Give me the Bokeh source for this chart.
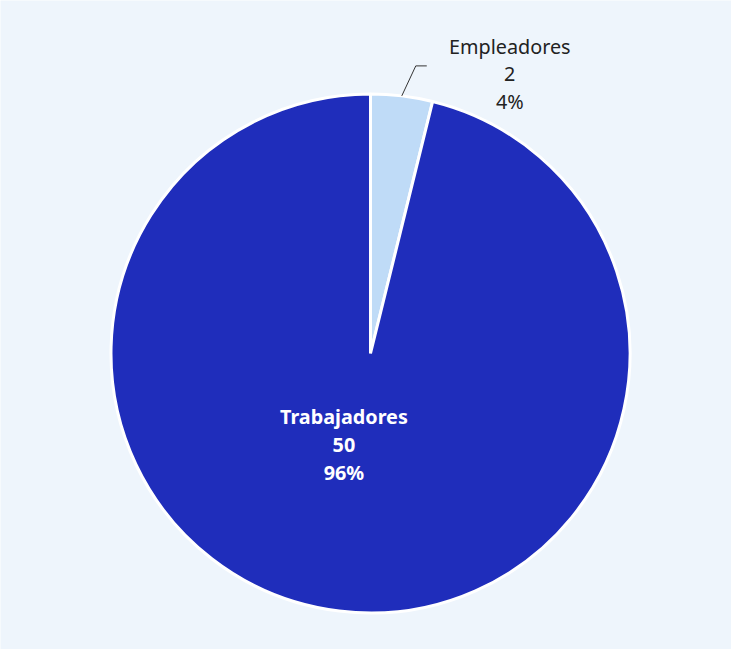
import math
from bokeh.plotting import figure
from bokeh.models import Range1d
from bokeh.core.properties import value
from bokeh.embed import file_html
from bokeh.resources import INLINE

categories = ["Empleadores", "Trabajadores"]
counts = [2, 50]
colors = ["#bfdbf7", "#1f2dbb"]

W, H = 731, 649
p = figure(width=W, height=H, output_backend="svg", toolbar_location=None,
           x_range=Range1d(0, W), y_range=Range1d(0, H), min_border=0,
           background_fill_color="#eef5fc", border_fill_color="#eef5fc")
p.axis.visible = False
p.grid.visible = False
p.outline_line_color = None

cx, cy, R = 370.0, 296.0, 259.5
total = sum(counts)
start = math.pi / 2
angles = []
for c, col in zip(counts, colors):
    sweep = 2 * math.pi * c / total
    end = start - sweep
    p.wedge(x=cx, y=cy, radius=R, start_angle=end, end_angle=start,
            fill_color=col, line_color="white", line_width=3)
    angles.append((start, end))
    start = end

font = value("Noto Sans")

# Empleadores (outside label with connector)
s, e = angles[0]
mid = (s + e) / 2
x0, y0 = cx + R * math.cos(mid), cy + R * math.sin(mid)
x1, y1 = x0 + 14, y0 + 30
x2 = x1 + 11
p.line([x0, x1, x2], [y0, y1, y1], line_color="#333333", line_width=1)
pct0 = round(100 * counts[0] / total)
lx = x2 + 83
for i, t in enumerate([categories[0], str(counts[0]), f"{pct0}%"]):
    p.text(x=[lx], y=[y1 + 19 - i * 27.5], text=[t], text_font=font,
           text_font_size="19.8px", text_color="#222222",
           text_align="center", text_baseline="middle")

# Trabajadores (inside label)
s, e = angles[1]
mid = (s + e) / 2 - 0.16
dist = 0.37 * R
tx, ty = cx + dist * math.cos(mid), cy + dist * math.sin(mid)
pct1 = round(100 * counts[1] / total)
for i, t in enumerate([categories[1], str(counts[1]), f"{pct1}%"]):
    p.text(x=[tx], y=[ty + 29 - i * 28], text=[t], text_font=font,
           text_font_size="19.8px", text_font_style="bold", text_color="white",
           text_align="center", text_baseline="middle")

open("out.html", "w").write(file_html(p, INLINE))
